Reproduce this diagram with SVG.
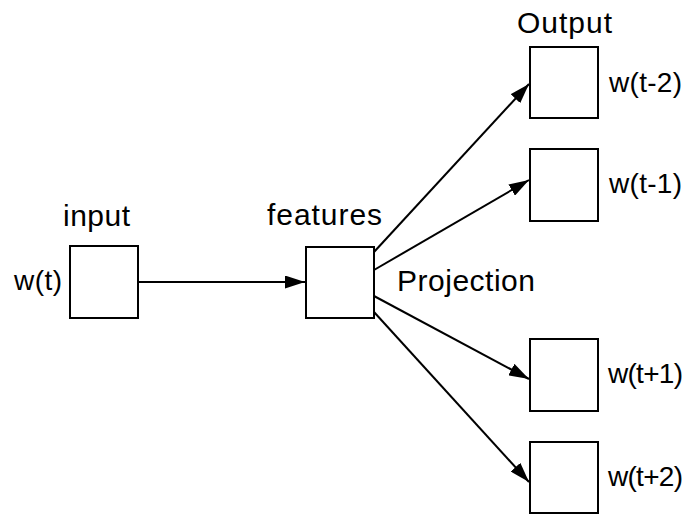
<svg xmlns="http://www.w3.org/2000/svg" width="689" height="514" viewBox="0 0 689 514">
  <defs>
    <marker id="arrow" viewBox="0 0 20 13" refX="20" refY="6.5" markerWidth="20" markerHeight="13" markerUnits="userSpaceOnUse" orient="auto">
      <path d="M0,0 L20,6.5 L0,13 z" fill="#000"/>
    </marker>
    <style>
      .box { fill: #fff; stroke: #000; stroke-width: 2; }
      .lbl { font-family: "Liberation Sans", Arial, sans-serif; font-size: 30px; fill: #000; }
      .word { font-size: 28px; }
      .edge { stroke: #000; stroke-width: 2; fill: none; marker-end: url(#arrow); }
    </style>
  </defs>
  <rect width="689" height="514" fill="#fff"/>

  <g id="connectors">
    <line class="edge" x1="138" y1="282" x2="305" y2="282"/>
    <line class="edge" x1="374" y1="252" x2="529" y2="84"/>
    <line class="edge" x1="374" y1="270" x2="529" y2="180"/>
    <line class="edge" x1="374" y1="296" x2="529" y2="379"/>
    <line class="edge" x1="374" y1="312" x2="529" y2="482"/>
  </g>

  <g id="input">
    <rect class="box" x="70" y="246" width="68" height="72"/>
    <text class="lbl" x="63" y="226" textLength="67">input</text>
    <text class="lbl word" x="14" y="290" textLength="48">w(t)</text>
  </g>

  <g id="features">
    <rect class="box" x="306" y="247" width="68" height="71"/>
    <text class="lbl" x="267" y="225" textLength="115">features</text>
    <text class="lbl" x="397" y="291" textLength="138">Projection</text>
  </g>

  <g id="out-t-2">
    <rect class="box" x="530" y="47" width="68" height="71"/>
    <text class="lbl" x="517" y="33" textLength="95">Output</text>
    <text class="lbl word" x="609" y="92" textLength="73">w(t-2)</text>
  </g>

  <g id="out-t-1">
    <rect class="box" x="530" y="149" width="68" height="72"/>
    <text class="lbl word" x="609" y="193" textLength="73">w(t-1)</text>
  </g>

  <g id="out-t+1">
    <rect class="box" x="530" y="339" width="68" height="72"/>
    <text class="lbl word" x="608" y="383" textLength="75">w(t+1)</text>
  </g>

  <g id="out-t+2">
    <rect class="box" x="530" y="442" width="68" height="71"/>
    <text class="lbl word" x="608" y="486" textLength="75">w(t+2)</text>
  </g>
</svg>
